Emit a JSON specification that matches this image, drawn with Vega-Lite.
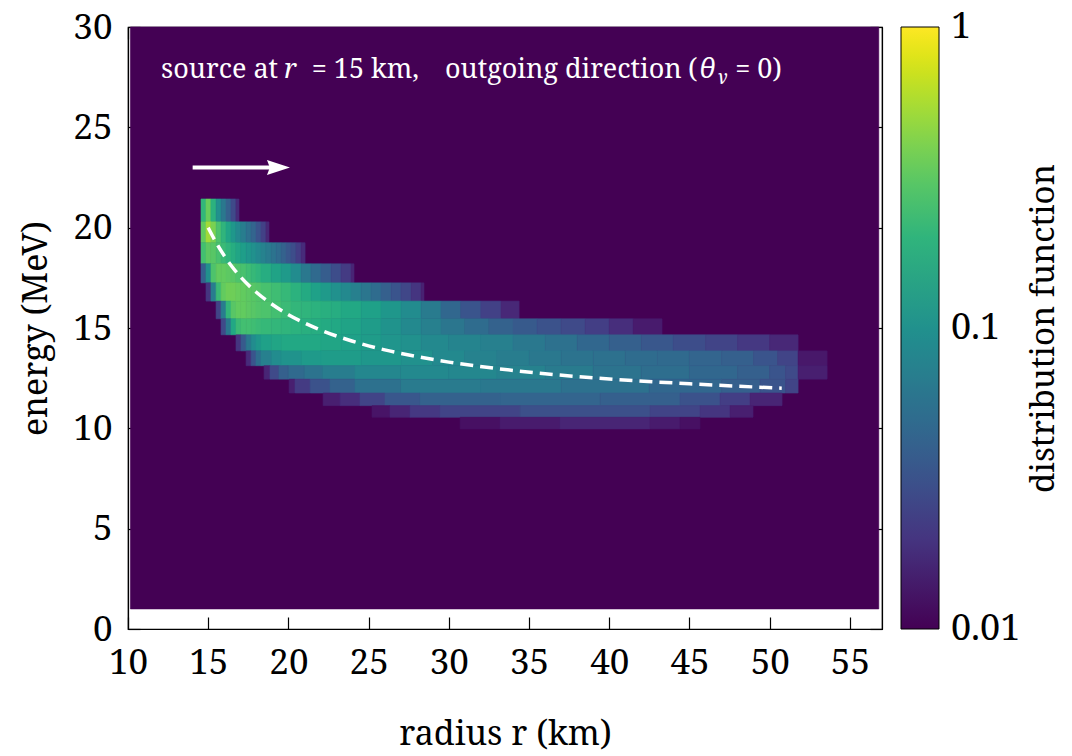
{
  "$schema": "https://vega.github.io/schema/vega-lite/v6.json",
  "width": 754,
  "height": 602,
  "autosize": {"type": "none"},
  "padding": {"left": 128, "top": 27, "right": 190, "bottom": 127},
  "background": "white",
  "config": {
    "view": {"stroke": "black", "strokeWidth": 1.2},
    "font": "Noto Serif",
    "axis": {
      "labelFont": "Noto Serif",
      "titleFont": "Noto Serif",
      "labelFontSize": 35,
      "titleFontSize": 34,
      "titleFontWeight": "normal",
      "labelColor": "black",
      "titleColor": "black",
      "tickColor": "black",
      "domainColor": "black",
      "tickWidth": 1.2,
      "domainWidth": 1.2,
      "tickSize": -12,
      "labelFlush": false,
      "grid": false
    }
  },
  "datasets": {
    "bins": [
      {"k": -1, "lo": 1, "hi": 30},
      {"k": 0, "lo": 20.29, "hi": 21.43},
      {"k": 1, "lo": 19.25, "hi": 20.29},
      {"k": 2, "lo": 18.20, "hi": 19.25},
      {"k": 3, "lo": 17.25, "hi": 18.20},
      {"k": 4, "lo": 16.34, "hi": 17.25},
      {"k": 5, "lo": 15.46, "hi": 16.34},
      {"k": 6, "lo": 14.66, "hi": 15.46},
      {"k": 7, "lo": 13.86, "hi": 14.66},
      {"k": 8, "lo": 13.12, "hi": 13.86},
      {"k": 9, "lo": 12.45, "hi": 13.12},
      {"k": 10, "lo": 11.76, "hi": 12.45},
      {"k": 11, "lo": 11.13, "hi": 11.76},
      {"k": 12, "lo": 10.55, "hi": 11.13},
      {"k": 13, "lo": 9.97, "hi": 10.55}
    ],
    "cells": [
      {"k": -1, "a": 10.15, "b": 56.8, "f": 0.01},

      {"k": 0, "a": 14.55, "b": 14.86, "f": 0.209},
      {"k": 0, "a": 14.86, "b": 15.17, "f": 0.347},
      {"k": 0, "a": 15.17, "b": 15.49, "f": 0.191},
      {"k": 0, "a": 15.49, "b": 15.80, "f": 0.1},
      {"k": 0, "a": 15.80, "b": 16.11, "f": 0.0631},
      {"k": 0, "a": 16.11, "b": 16.42, "f": 0.0417},
      {"k": 0, "a": 16.42, "b": 16.73, "f": 0.0275},
      {"k": 0, "a": 16.73, "b": 16.92, "f": 0.0174},

      {"k": 1, "a": 14.55, "b": 14.86, "f": 0.331},
      {"k": 1, "a": 14.86, "b": 15.17, "f": 0.525},
      {"k": 1, "a": 15.17, "b": 15.49, "f": 0.398},
      {"k": 1, "a": 15.49, "b": 15.80, "f": 0.275},
      {"k": 1, "a": 15.80, "b": 16.11, "f": 0.2},
      {"k": 1, "a": 16.11, "b": 16.42, "f": 0.151},
      {"k": 1, "a": 16.42, "b": 16.73, "f": 0.115},
      {"k": 1, "a": 16.73, "b": 17.04, "f": 0.0871},
      {"k": 1, "a": 17.04, "b": 17.36, "f": 0.0692},
      {"k": 1, "a": 17.36, "b": 17.67, "f": 0.055},
      {"k": 1, "a": 17.67, "b": 17.98, "f": 0.0437},
      {"k": 1, "a": 17.98, "b": 18.29, "f": 0.0331},
      {"k": 1, "a": 18.29, "b": 18.60, "f": 0.024},
      {"k": 1, "a": 18.60, "b": 18.79, "f": 0.0166},

      {"k": 2, "a": 14.55, "b": 14.86, "f": 0.251},
      {"k": 2, "a": 14.86, "b": 15.17, "f": 0.316},
      {"k": 2, "a": 15.17, "b": 15.49, "f": 0.302},
      {"k": 2, "a": 15.49, "b": 15.80, "f": 0.263},
      {"k": 2, "a": 15.80, "b": 16.11, "f": 0.229},
      {"k": 2, "a": 16.11, "b": 16.42, "f": 0.2},
      {"k": 2, "a": 16.42, "b": 16.73, "f": 0.174},
      {"k": 2, "a": 16.73, "b": 17.04, "f": 0.151},
      {"k": 2, "a": 17.04, "b": 17.36, "f": 0.132},
      {"k": 2, "a": 17.36, "b": 17.67, "f": 0.115},
      {"k": 2, "a": 17.67, "b": 17.98, "f": 0.1},
      {"k": 2, "a": 17.98, "b": 18.29, "f": 0.0871},
      {"k": 2, "a": 18.29, "b": 18.60, "f": 0.0759},
      {"k": 2, "a": 18.60, "b": 18.92, "f": 0.0661},
      {"k": 2, "a": 18.92, "b": 19.23, "f": 0.0575},
      {"k": 2, "a": 19.23, "b": 19.54, "f": 0.0501},
      {"k": 2, "a": 19.54, "b": 19.85, "f": 0.0417},
      {"k": 2, "a": 19.85, "b": 20.16, "f": 0.0347},
      {"k": 2, "a": 20.16, "b": 20.47, "f": 0.0288},
      {"k": 2, "a": 20.47, "b": 20.79, "f": 0.0229},
      {"k": 2, "a": 20.79, "b": 21.04, "f": 0.0174},

      {"k": 3, "a": 14.55, "b": 14.86, "f": 0.0398},
      {"k": 3, "a": 14.86, "b": 15.17, "f": 0.1},
      {"k": 3, "a": 15.17, "b": 15.49, "f": 0.275},
      {"k": 3, "a": 15.49, "b": 15.80, "f": 0.331},
      {"k": 3, "a": 15.80, "b": 16.11, "f": 0.331},
      {"k": 3, "a": 16.11, "b": 16.42, "f": 0.316},
      {"k": 3, "a": 16.42, "b": 16.73, "f": 0.302},
      {"k": 3, "a": 16.73, "b": 17.04, "f": 0.275},
      {"k": 3, "a": 17.04, "b": 17.36, "f": 0.263},
      {"k": 3, "a": 17.36, "b": 17.67, "f": 0.24},
      {"k": 3, "a": 17.67, "b": 17.98, "f": 0.219},
      {"k": 3, "a": 17.98, "b": 18.29, "f": 0.2},
      {"k": 3, "a": 18.29, "b": 18.92, "f": 0.174},
      {"k": 3, "a": 18.92, "b": 19.54, "f": 0.145},
      {"k": 3, "a": 19.54, "b": 20.16, "f": 0.12},
      {"k": 3, "a": 20.16, "b": 20.79, "f": 0.0912},
      {"k": 3, "a": 20.79, "b": 21.41, "f": 0.0631},
      {"k": 3, "a": 21.41, "b": 22.03, "f": 0.0479},
      {"k": 3, "a": 22.03, "b": 22.66, "f": 0.038},
      {"k": 3, "a": 22.66, "b": 23.28, "f": 0.0288},
      {"k": 3, "a": 23.28, "b": 23.90, "f": 0.0219},
      {"k": 3, "a": 23.90, "b": 24.09, "f": 0.0158},

      {"k": 4, "a": 14.86, "b": 15.17, "f": 0.02},
      {"k": 4, "a": 15.17, "b": 15.49, "f": 0.0692},
      {"k": 4, "a": 15.49, "b": 15.80, "f": 0.229},
      {"k": 4, "a": 15.80, "b": 16.11, "f": 0.331},
      {"k": 4, "a": 16.11, "b": 16.42, "f": 0.363},
      {"k": 4, "a": 16.42, "b": 16.73, "f": 0.363},
      {"k": 4, "a": 16.73, "b": 17.04, "f": 0.347},
      {"k": 4, "a": 17.04, "b": 17.36, "f": 0.331},
      {"k": 4, "a": 17.36, "b": 17.67, "f": 0.316},
      {"k": 4, "a": 17.67, "b": 17.98, "f": 0.302},
      {"k": 4, "a": 17.98, "b": 18.29, "f": 0.288},
      {"k": 4, "a": 18.29, "b": 18.92, "f": 0.263},
      {"k": 4, "a": 18.92, "b": 19.54, "f": 0.24},
      {"k": 4, "a": 19.54, "b": 20.16, "f": 0.219},
      {"k": 4, "a": 20.16, "b": 20.79, "f": 0.191},
      {"k": 4, "a": 20.79, "b": 21.41, "f": 0.166},
      {"k": 4, "a": 21.41, "b": 22.03, "f": 0.138},
      {"k": 4, "a": 22.03, "b": 22.66, "f": 0.12},
      {"k": 4, "a": 22.66, "b": 23.28, "f": 0.1},
      {"k": 4, "a": 23.28, "b": 23.90, "f": 0.0871},
      {"k": 4, "a": 23.90, "b": 24.53, "f": 0.0724},
      {"k": 4, "a": 24.53, "b": 25.15, "f": 0.0603},
      {"k": 4, "a": 25.15, "b": 25.77, "f": 0.0501},
      {"k": 4, "a": 25.77, "b": 26.40, "f": 0.0398},
      {"k": 4, "a": 26.40, "b": 27.02, "f": 0.0331},
      {"k": 4, "a": 27.02, "b": 27.65, "f": 0.0263},
      {"k": 4, "a": 27.65, "b": 28.27, "f": 0.02},
      {"k": 4, "a": 28.27, "b": 28.45, "f": 0.0151},

      {"k": 5, "a": 15.49, "b": 15.80, "f": 0.0251},
      {"k": 5, "a": 15.80, "b": 16.11, "f": 0.0692},
      {"k": 5, "a": 16.11, "b": 16.42, "f": 0.209},
      {"k": 5, "a": 16.42, "b": 16.73, "f": 0.302},
      {"k": 5, "a": 16.73, "b": 17.04, "f": 0.331},
      {"k": 5, "a": 17.04, "b": 17.36, "f": 0.331},
      {"k": 5, "a": 17.36, "b": 17.67, "f": 0.316},
      {"k": 5, "a": 17.67, "b": 17.98, "f": 0.302},
      {"k": 5, "a": 17.98, "b": 18.29, "f": 0.288},
      {"k": 5, "a": 18.29, "b": 18.92, "f": 0.275},
      {"k": 5, "a": 18.92, "b": 19.54, "f": 0.251},
      {"k": 5, "a": 19.54, "b": 20.16, "f": 0.229},
      {"k": 5, "a": 20.16, "b": 20.79, "f": 0.209},
      {"k": 5, "a": 20.79, "b": 21.41, "f": 0.2},
      {"k": 5, "a": 21.41, "b": 22.03, "f": 0.191},
      {"k": 5, "a": 22.03, "b": 22.66, "f": 0.182},
      {"k": 5, "a": 22.66, "b": 23.28, "f": 0.174},
      {"k": 5, "a": 23.28, "b": 24.53, "f": 0.158},
      {"k": 5, "a": 24.53, "b": 25.77, "f": 0.138},
      {"k": 5, "a": 25.77, "b": 27.02, "f": 0.115},
      {"k": 5, "a": 27.02, "b": 28.27, "f": 0.0912},
      {"k": 5, "a": 28.27, "b": 29.51, "f": 0.0661},
      {"k": 5, "a": 29.51, "b": 30.75, "f": 0.0457},
      {"k": 5, "a": 30.75, "b": 32.00, "f": 0.0331},
      {"k": 5, "a": 32.00, "b": 33.25, "f": 0.024},
      {"k": 5, "a": 33.25, "b": 34.38, "f": 0.0166},

      {"k": 6, "a": 15.80, "b": 16.11, "f": 0.0275},
      {"k": 6, "a": 16.11, "b": 16.42, "f": 0.0631},
      {"k": 6, "a": 16.42, "b": 16.73, "f": 0.158},
      {"k": 6, "a": 16.73, "b": 17.04, "f": 0.229},
      {"k": 6, "a": 17.04, "b": 17.36, "f": 0.251},
      {"k": 6, "a": 17.36, "b": 17.67, "f": 0.251},
      {"k": 6, "a": 17.67, "b": 17.98, "f": 0.24},
      {"k": 6, "a": 17.98, "b": 18.29, "f": 0.229},
      {"k": 6, "a": 18.29, "b": 18.92, "f": 0.219},
      {"k": 6, "a": 18.92, "b": 19.54, "f": 0.209},
      {"k": 6, "a": 19.54, "b": 20.16, "f": 0.2},
      {"k": 6, "a": 20.16, "b": 20.79, "f": 0.191},
      {"k": 6, "a": 20.79, "b": 21.41, "f": 0.182},
      {"k": 6, "a": 21.41, "b": 22.03, "f": 0.174},
      {"k": 6, "a": 22.03, "b": 22.66, "f": 0.166},
      {"k": 6, "a": 22.66, "b": 23.28, "f": 0.158},
      {"k": 6, "a": 23.28, "b": 24.53, "f": 0.145},
      {"k": 6, "a": 24.53, "b": 25.77, "f": 0.126},
      {"k": 6, "a": 25.77, "b": 27.02, "f": 0.105},
      {"k": 6, "a": 27.02, "b": 28.27, "f": 0.0871},
      {"k": 6, "a": 28.27, "b": 29.51, "f": 0.0724},
      {"k": 6, "a": 29.51, "b": 31.0, "f": 0.0603},
      {"k": 6, "a": 31.0, "b": 32.5, "f": 0.0501},
      {"k": 6, "a": 32.5, "b": 34.0, "f": 0.0417},
      {"k": 6, "a": 34.0, "b": 35.5, "f": 0.0363},
      {"k": 6, "a": 35.5, "b": 37.0, "f": 0.0316},
      {"k": 6, "a": 37.0, "b": 38.5, "f": 0.0275},
      {"k": 6, "a": 38.5, "b": 40.0, "f": 0.0229},
      {"k": 6, "a": 40.0, "b": 41.5, "f": 0.0182},
      {"k": 6, "a": 41.5, "b": 43.29, "f": 0.0138},

      {"k": 7, "a": 16.73, "b": 17.04, "f": 0.02},
      {"k": 7, "a": 17.04, "b": 17.36, "f": 0.0363},
      {"k": 7, "a": 17.36, "b": 17.67, "f": 0.0631},
      {"k": 7, "a": 17.67, "b": 17.98, "f": 0.0912},
      {"k": 7, "a": 17.98, "b": 18.29, "f": 0.115},
      {"k": 7, "a": 18.29, "b": 18.92, "f": 0.138},
      {"k": 7, "a": 18.92, "b": 19.54, "f": 0.151},
      {"k": 7, "a": 19.54, "b": 22.03, "f": 0.158},
      {"k": 7, "a": 22.03, "b": 23.28, "f": 0.151},
      {"k": 7, "a": 23.28, "b": 24.53, "f": 0.138},
      {"k": 7, "a": 24.53, "b": 25.77, "f": 0.126},
      {"k": 7, "a": 25.77, "b": 27.02, "f": 0.11},
      {"k": 7, "a": 27.02, "b": 28.27, "f": 0.1},
      {"k": 7, "a": 28.27, "b": 30.0, "f": 0.0871},
      {"k": 7, "a": 30.0, "b": 32.0, "f": 0.0794},
      {"k": 7, "a": 32.0, "b": 34.0, "f": 0.0724},
      {"k": 7, "a": 34.0, "b": 36.0, "f": 0.0631},
      {"k": 7, "a": 36.0, "b": 38.0, "f": 0.055},
      {"k": 7, "a": 38.0, "b": 40.0, "f": 0.0457},
      {"k": 7, "a": 40.0, "b": 42.0, "f": 0.0398},
      {"k": 7, "a": 42.0, "b": 44.0, "f": 0.0347},
      {"k": 7, "a": 44.0, "b": 46.0, "f": 0.0288},
      {"k": 7, "a": 46.0, "b": 48.0, "f": 0.0251},
      {"k": 7, "a": 48.0, "b": 50.0, "f": 0.0209},
      {"k": 7, "a": 50.0, "b": 51.77, "f": 0.0166},

      {"k": 8, "a": 17.36, "b": 17.67, "f": 0.0174},
      {"k": 8, "a": 17.67, "b": 17.98, "f": 0.0331},
      {"k": 8, "a": 17.98, "b": 18.29, "f": 0.0525},
      {"k": 8, "a": 18.29, "b": 18.92, "f": 0.0724},
      {"k": 8, "a": 18.92, "b": 19.54, "f": 0.0912},
      {"k": 8, "a": 19.54, "b": 20.79, "f": 0.105},
      {"k": 8, "a": 20.79, "b": 22.03, "f": 0.12},
      {"k": 8, "a": 22.03, "b": 24.53, "f": 0.126},
      {"k": 8, "a": 24.53, "b": 27.02, "f": 0.115},
      {"k": 8, "a": 27.02, "b": 29.0, "f": 0.1},
      {"k": 8, "a": 29.0, "b": 31.0, "f": 0.0871},
      {"k": 8, "a": 31.0, "b": 33.0, "f": 0.0759},
      {"k": 8, "a": 33.0, "b": 35.0, "f": 0.0692},
      {"k": 8, "a": 35.0, "b": 37.0, "f": 0.0631},
      {"k": 8, "a": 37.0, "b": 39.0, "f": 0.0575},
      {"k": 8, "a": 39.0, "b": 41.0, "f": 0.055},
      {"k": 8, "a": 41.0, "b": 43.0, "f": 0.0501},
      {"k": 8, "a": 43.0, "b": 45.0, "f": 0.0479},
      {"k": 8, "a": 45.0, "b": 47.0, "f": 0.0437},
      {"k": 8, "a": 47.0, "b": 49.0, "f": 0.0398},
      {"k": 8, "a": 49.0, "b": 50.5, "f": 0.0331},
      {"k": 8, "a": 50.5, "b": 51.77, "f": 0.0251},
      {"k": 8, "a": 51.77, "b": 53.58, "f": 0.0132},

      {"k": 9, "a": 18.48, "b": 18.85, "f": 0.0158},
      {"k": 9, "a": 18.85, "b": 19.40, "f": 0.0275},
      {"k": 9, "a": 19.40, "b": 20.00, "f": 0.0398},
      {"k": 9, "a": 20.00, "b": 21.00, "f": 0.0479},
      {"k": 9, "a": 21.00, "b": 22.10, "f": 0.0575},
      {"k": 9, "a": 22.10, "b": 24.15, "f": 0.0692},
      {"k": 9, "a": 24.15, "b": 27.0, "f": 0.0832},
      {"k": 9, "a": 27.0, "b": 30.0, "f": 0.0871},
      {"k": 9, "a": 30.0, "b": 33.0, "f": 0.0832},
      {"k": 9, "a": 33.0, "b": 36.0, "f": 0.0759},
      {"k": 9, "a": 36.0, "b": 39.0, "f": 0.0661},
      {"k": 9, "a": 39.0, "b": 42.0, "f": 0.0575},
      {"k": 9, "a": 42.0, "b": 45.0, "f": 0.0525},
      {"k": 9, "a": 45.0, "b": 48.0, "f": 0.0457},
      {"k": 9, "a": 48.0, "b": 50.0, "f": 0.0398},
      {"k": 9, "a": 50.0, "b": 51.0, "f": 0.0331},
      {"k": 9, "a": 51.0, "b": 51.77, "f": 0.0275},
      {"k": 9, "a": 51.77, "b": 53.58, "f": 0.0145},

      {"k": 10, "a": 20.04, "b": 20.41, "f": 0.0145},
      {"k": 10, "a": 20.41, "b": 21.35, "f": 0.0219},
      {"k": 10, "a": 21.35, "b": 22.59, "f": 0.0316},
      {"k": 10, "a": 22.59, "b": 24.15, "f": 0.0417},
      {"k": 10, "a": 24.15, "b": 27.0, "f": 0.055},
      {"k": 10, "a": 27.0, "b": 32.0, "f": 0.0661},
      {"k": 10, "a": 32.0, "b": 37.0, "f": 0.0631},
      {"k": 10, "a": 37.0, "b": 42.5, "f": 0.055},
      {"k": 10, "a": 42.5, "b": 47.0, "f": 0.0457},
      {"k": 10, "a": 47.0, "b": 49.4, "f": 0.0398},
      {"k": 10, "a": 49.4, "b": 51.0, "f": 0.0331},
      {"k": 10, "a": 51.0, "b": 51.77, "f": 0.0251},

      {"k": 11, "a": 22.16, "b": 23.22, "f": 0.0145},
      {"k": 11, "a": 23.22, "b": 24.46, "f": 0.0182},
      {"k": 11, "a": 24.46, "b": 26.02, "f": 0.0251},
      {"k": 11, "a": 26.02, "b": 28.20, "f": 0.0347},
      {"k": 11, "a": 28.20, "b": 33.19, "f": 0.0417},
      {"k": 11, "a": 33.19, "b": 39.43, "f": 0.0437},
      {"k": 11, "a": 39.43, "b": 44.41, "f": 0.0398},
      {"k": 11, "a": 44.41, "b": 46.91, "f": 0.0316},
      {"k": 11, "a": 46.91, "b": 48.78, "f": 0.0229},
      {"k": 11, "a": 48.78, "b": 50.77, "f": 0.0158},

      {"k": 12, "a": 25.21, "b": 26.33, "f": 0.0126},
      {"k": 12, "a": 26.33, "b": 27.58, "f": 0.0158},
      {"k": 12, "a": 27.58, "b": 29.45, "f": 0.0209},
      {"k": 12, "a": 29.45, "b": 34.44, "f": 0.0251},
      {"k": 12, "a": 34.44, "b": 42.54, "f": 0.0302},
      {"k": 12, "a": 42.54, "b": 45.66, "f": 0.0251},
      {"k": 12, "a": 45.66, "b": 47.53, "f": 0.02},
      {"k": 12, "a": 47.53, "b": 48.96, "f": 0.0145},

      {"k": 13, "a": 30.70, "b": 33.19, "f": 0.012},
      {"k": 13, "a": 33.19, "b": 36.93, "f": 0.0138},
      {"k": 13, "a": 36.93, "b": 42.54, "f": 0.0158},
      {"k": 13, "a": 42.54, "b": 44.41, "f": 0.0138},
      {"k": 13, "a": 44.41, "b": 45.66, "f": 0.012}
    ],
    "curve": [
      {"r": 15.0, "e": 20.0},
      {"r": 15.5, "e": 19.25},
      {"r": 16.0, "e": 18.6},
      {"r": 16.5, "e": 18.04},
      {"r": 17.0, "e": 17.56},
      {"r": 18.0, "e": 16.78},
      {"r": 19.0, "e": 16.17},
      {"r": 20.0, "e": 15.66},
      {"r": 21.0, "e": 15.25},
      {"r": 22.0, "e": 14.9},
      {"r": 24.0, "e": 14.34},
      {"r": 26.0, "e": 13.91},
      {"r": 28.0, "e": 13.58},
      {"r": 30.0, "e": 13.3},
      {"r": 33.0, "e": 12.98},
      {"r": 36.0, "e": 12.72},
      {"r": 40.0, "e": 12.46},
      {"r": 45.0, "e": 12.22},
      {"r": 50.75, "e": 12.0}
    ],
    "notes": [
      {"r": 12.06, "e": 27.48, "s": "source at", "it": 0, "z": 27},
      {"r": 19.73, "e": 27.48, "s": "r", "it": 1, "z": 27},
      {"r": 21.45, "e": 27.48, "s": "= 15 km,", "it": 0, "z": 27},
      {"r": 29.76, "e": 27.48, "s": "outgoing direction", "it": 0, "z": 27},
      {"r": 44.91, "e": 27.48, "s": "(", "it": 0, "z": 27},
      {"r": 45.6, "e": 27.48, "s": "θ", "it": 1, "z": 27},
      {"r": 46.72, "e": 27.15, "s": "ν", "it": 1, "z": 19},
      {"r": 47.85, "e": 27.48, "s": "= 0)", "it": 0, "z": 27}
    ]
  },
  "layer": [
    {
      "data": {"name": "cells"},
      "transform": [
        {"lookup": "k", "from": {"data": {"name": "bins"}, "key": "k", "fields": ["lo", "hi"]}}
      ],
      "mark": {"type": "rect", "strokeWidth": 0.6, "stroke": {"expr": "scale('color', datum.f)"}},
      "encoding": {
        "x": {
          "field": "a", "type": "quantitative",
          "scale": {"domain": [10, 57], "nice": false, "zero": false},
          "axis": {
            "orient": "bottom",
            "values": [10, 15, 20, 25, 30, 35, 40, 45, 50, 55],
            "title": "radius r (km)",
            "labelPadding": 28,
            "titlePadding": 37
          }
        },
        "x2": {"field": "b"},
        "y": {
          "field": "lo", "type": "quantitative",
          "scale": {"domain": [0, 30], "nice": false, "zero": false},
          "axis": {
            "orient": "left",
            "values": [0, 5, 10, 15, 20, 25, 30],
            "title": "energy (MeV)",
            "labelPadding": 28,
            "titlePadding": 19
          }
        },
        "y2": {"field": "hi"},
        "color": {
          "field": "f", "type": "quantitative",
          "scale": {"type": "log", "domain": [0.01, 1], "scheme": "viridis", "clamp": true},
          "legend": {
            "type": "gradient",
            "orient": "none",
            "legendX": 773,
            "legendY": 0,
            "direction": "vertical",
            "title": null,
            "gradientLength": 602,
            "gradientThickness": 38,
            "gradientStrokeColor": "black",
            "gradientStrokeWidth": 1,
            "values": [0.01, 0.1, 1],
            "format": "~g",
            "labelFont": "Noto Serif",
            "labelFontSize": 36,
            "labelColor": "black",
            "labelOffset": 12,
            "labelBaseline": "middle",
            "labelOverlap": false,
            "padding": 0,
            "encode": {"labels": {"update": {"baseline": {"value": "middle"}}}}
          }
        }
      }
    },
    {
      "data": {"name": "curve"},
      "mark": {"type": "line", "color": "white", "strokeWidth": 3.5, "strokeDash": [13, 7], "interpolate": "monotone"},
      "encoding": {
        "x": {
          "field": "r", "type": "quantitative",
          "scale": {"domain": [10, 57], "nice": false, "zero": false},
          "axis": {"orient": "top", "values": [10, 15, 20, 25, 30, 35, 40, 45, 50, 55], "labels": false, "title": null}
        },
        "y": {
          "field": "e", "type": "quantitative",
          "scale": {"domain": [0, 30], "nice": false, "zero": false},
          "axis": {
            "orient": "right",
            "values": [0, 5, 10, 15, 20, 25, 30],
            "labels": false,
            "title": "distribution function",
            "titleFontSize": 33,
            "titleAngle": 270,
            "titleBaseline": "top",
            "titlePadding": 145
          }
        }
      }
    },
    {
      "data": {"values": [{"r0": 14.03, "r1": 19.0, "e": 23}]},
      "mark": {"type": "rule", "color": "white", "strokeWidth": 4},
      "encoding": {
        "x": {"field": "r0", "type": "quantitative", "scale": {"domain": [10, 57], "nice": false, "zero": false}, "axis": null},
        "x2": {"field": "r1"},
        "y": {"field": "e", "type": "quantitative", "scale": {"domain": [0, 30], "nice": false, "zero": false}, "axis": null}
      }
    },
    {
      "data": {"values": [{"r": 19.38, "e": 23}]},
      "mark": {"type": "point", "filled": true, "color": "white", "opacity": 1, "size": 529, "shape": "M -1 -0.65 L 1 0 L -1 0.65 L -0.75 0 Z"},
      "encoding": {
        "x": {"field": "r", "type": "quantitative", "scale": {"domain": [10, 57], "nice": false, "zero": false}, "axis": null},
        "y": {"field": "e", "type": "quantitative", "scale": {"domain": [0, 30], "nice": false, "zero": false}, "axis": null}
      }
    },
    {
      "data": {"name": "notes"},
      "transform": [{"filter": "datum.it == 0"}],
      "mark": {"type": "text", "color": "white", "align": "left", "baseline": "alphabetic", "font": "Noto Serif"},
      "encoding": {
        "x": {"field": "r", "type": "quantitative", "scale": {"domain": [10, 57], "nice": false, "zero": false}, "axis": null},
        "y": {"field": "e", "type": "quantitative", "scale": {"domain": [0, 30], "nice": false, "zero": false}, "axis": null},
        "text": {"field": "s"},
        "size": {"field": "z", "type": "quantitative", "scale": null}
      }
    },
    {
      "data": {"name": "notes"},
      "transform": [{"filter": "datum.it == 1"}],
      "mark": {"type": "text", "color": "white", "align": "left", "baseline": "alphabetic", "font": "Noto Serif", "fontStyle": "italic"},
      "encoding": {
        "x": {"field": "r", "type": "quantitative", "scale": {"domain": [10, 57], "nice": false, "zero": false}, "axis": null},
        "y": {"field": "e", "type": "quantitative", "scale": {"domain": [0, 30], "nice": false, "zero": false}, "axis": null},
        "text": {"field": "s"},
        "size": {"field": "z", "type": "quantitative", "scale": null}
      }
    }
  ],
  "resolve": {"axis": {"x": "independent", "y": "independent"}}
}
